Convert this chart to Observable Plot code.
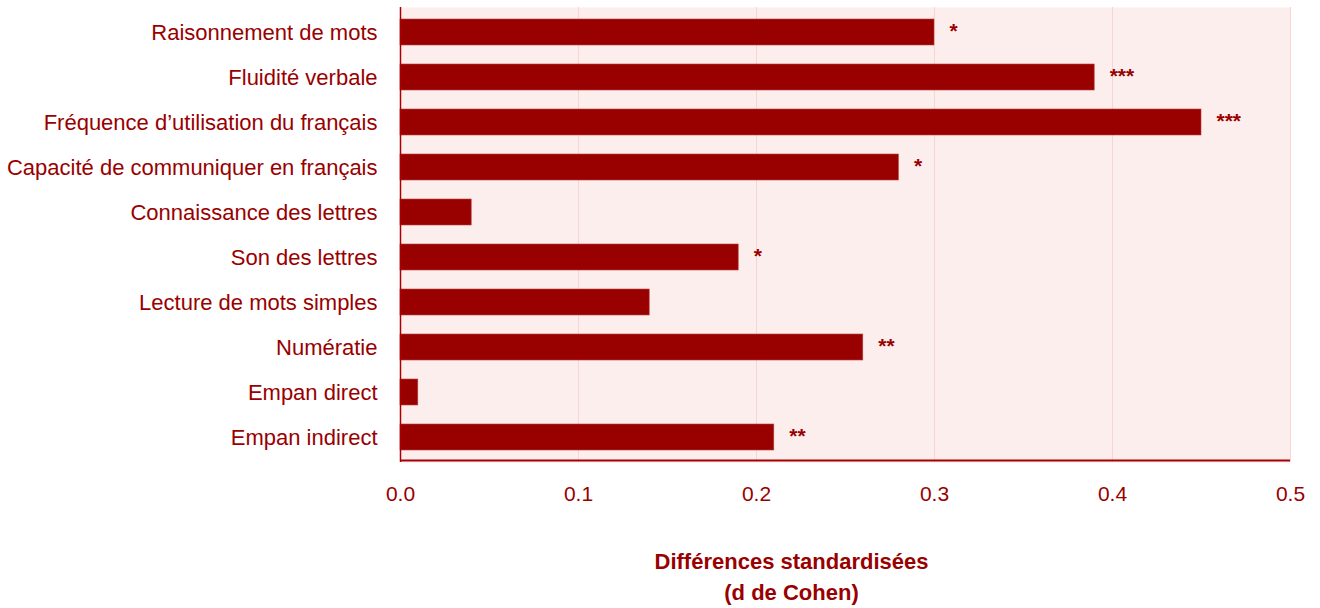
<!DOCTYPE html>
<html><head><meta charset="utf-8">
<script src="https://cdn.jsdelivr.net/npm/d3@7"></script>
<script src="https://cdn.jsdelivr.net/npm/@observablehq/plot@0.6"></script>
<style>
body{margin:0;background:#fff;}
svg{display:block;}
</style></head>
<body><div id="chart"></div>
<script>
const categories = ["Raisonnement de mots","Fluidité verbale","Fréquence d’utilisation du français","Capacité de communiquer en français","Connaissance des lettres","Son des lettres","Lecture de mots simples","Numératie","Empan direct","Empan indirect"];
const values = [0.30,0.39,0.45,0.28,0.04,0.19,0.14,0.26,0.01,0.21];
const stars = ["*","***","***","*","","*","","**","","**"];
const xTicks = [0,0.1,0.2,0.3,0.4,0.5];
const axisTitle = "Différences standardisées\n(d de Cohen)";

const data = categories.map((c,i)=>({cat:c, v:values[i], s:stars[i]}));
const red = "#990000";
const font = "'Liberation Sans Narrow','Arial Narrow','Liberation Sans',Arial,sans-serif";

const chart = Plot.plot({
  width:1320, height:608,
  marginLeft:400, marginRight:30, marginTop:7, marginBottom:146,
  style:{fontFamily:font, color:red, background:"#fff"},
  x:{domain:[0,0.5], label:null},
  y:{domain:categories, paddingInner:0.427, paddingOuter:0.22, label:null},
  marks:[
    Plot.frame({fill:"#fdeeee", stroke:null}),
    Plot.gridX(xTicks.filter(d=>d>0), {stroke:"#f8d4d4", strokeOpacity:1, strokeWidth:1}),
    Plot.barX(data, {x:"v", y:"cat", fill:red, stroke:"#b84040", strokeWidth:0.6}),
    Plot.text(data, {x:"v", y:"cat", text:"s", dx:15, textAnchor:"start", fill:red, fontSize:21, fontWeight:"bold", dy:-1}),
    Plot.ruleX([0], {stroke:"#a80000", strokeWidth:1.5}),
    Plot.ruleY([0], {x1:0, x2:0.5, y:()=>categories[categories.length-1], dy:23, stroke:"#a80000", strokeWidth:2}),
    Plot.axisY({tickSize:0, tickPadding:23, fontSize:22, fill:red}),
    Plot.axisX({ticks:xTicks, tickFormat:d3.format(".1f"), tickSize:0, tickPadding:24, fontSize:21, fill:red, label:null}),
    Plot.text([axisTitle], {frameAnchor:"bottom", dx:-54, dy:137, fontSize:22, fontWeight:"bold", fill:red, lineHeight:1.4})
  ]
});
document.getElementById("chart").appendChild(chart);
</script>
</body></html>
